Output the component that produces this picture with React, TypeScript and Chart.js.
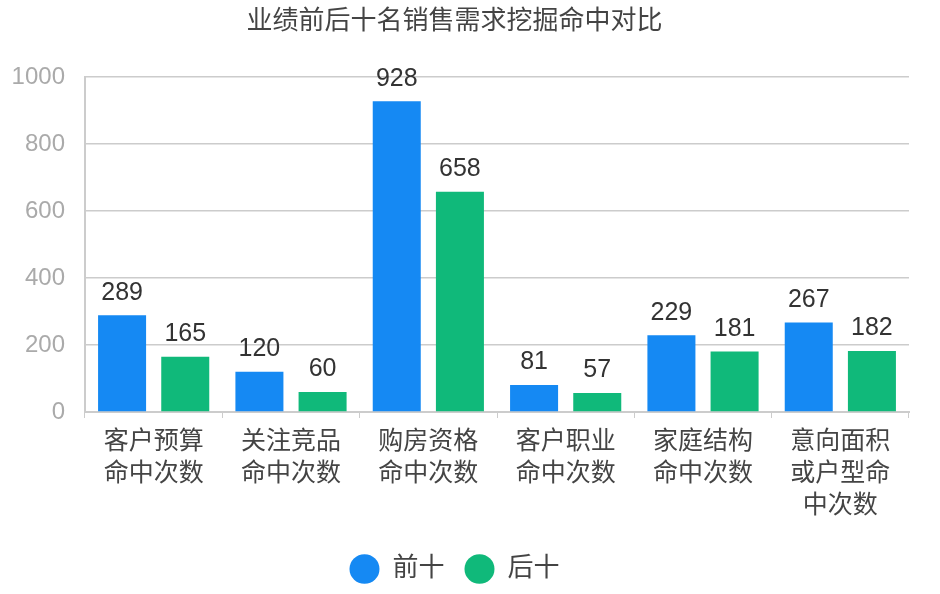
import React, { useEffect, useRef } from "react";
import { Chart, registerables } from "chart.js";

Chart.register(...registerables);

const title = "业绩前后十名销售需求挖掘命中对比";
const categories: string[][] = [
  ["客户预算", "命中次数"],
  ["关注竞品", "命中次数"],
  ["购房资格", "命中次数"],
  ["客户职业", "命中次数"],
  ["家庭结构", "命中次数"],
  ["意向面积", "或户型命", "中次数"],
];
const seriesNames = ["前十", "后十"];
const top10 = [289, 120, 928, 81, 229, 267];
const bottom10 = [165, 60, 658, 57, 181, 182];
const yTicks = [0, 200, 400, 600, 800, 1000];

const FONT = "'Liberation Sans', 'Noto Sans CJK SC', sans-serif";

const dataLabels = {
  id: "dataLabels",
  afterDatasetsDraw(chart: any) {
    const ctx = chart.ctx;
    ctx.save();
    ctx.font = `25px ${FONT}`;
    ctx.fillStyle = "#333";
    ctx.textAlign = "center";
    ctx.textBaseline = "bottom";
    chart.data.datasets.forEach((ds: any, i: number) => {
      const meta = chart.getDatasetMeta(i);
      meta.data.forEach((bar: any, j: number) => {
        ctx.fillText(String(ds.data[j]), bar.x, bar.y - 10);
      });
    });
    ctx.restore();
  },
};

export default function App() {
  const ref = useRef<HTMLCanvasElement>(null);
  useEffect(() => {
    document.body.style.margin = "0";
    const chart = new Chart(ref.current!, {
      type: "bar",
      data: {
        labels: categories,
        datasets: [
          { label: seriesNames[0], data: top10, backgroundColor: "#1589f3" },
          { label: seriesNames[1], data: bottom10, backgroundColor: "#10b97a" },
        ],
      },
      options: {
        animation: false,
        responsive: false,
        maintainAspectRatio: false,
        layout: { padding: { left: 0, right: 31, top: 0, bottom: 2 } },
        datasets: {
          bar: { categoryPercentage: 0.92, barPercentage: 0.76 },
        } as any,
        plugins: {
          title: {
            display: true,
            text: title,
            color: "#444",
            font: { family: FONT, size: 26, weight: "normal" },
            padding: { top: 6, bottom: 40 },
          },
          legend: {
            position: "bottom",
            labels: {
              usePointStyle: true,
              pointStyle: "circle",
              pointStyleWidth: 30,
              boxWidth: 30,
              boxHeight: 21,
              padding: 20,
              color: "#444",
              font: { family: FONT, size: 26 },
            },
          },
          tooltip: { enabled: false },
        },
        scales: {
          x: {
            afterFit: (scale: any) => {
              scale.height = 124;
            },
            grid: { drawOnChartArea: false, drawTicks: true, tickLength: 6, color: "#ccc" },
            border: { color: "#ccc", width: 2 },
            ticks: { color: "#444", font: { family: FONT, size: 25, lineHeight: 32 / 25 }, padding: 8, maxRotation: 0 },
          },
          y: {
            min: 0,
            max: 1000,
            afterBuildTicks: (scale: any) => {
              scale.ticks = yTicks.map((v) => ({ value: v }));
            },
            afterFit: (scale: any) => {
              scale.width = 85;
            },
            grid: { color: "#ccc", drawTicks: false, lineWidth: 1.5 },
            border: { color: "#ccc", width: 2 },
            ticks: {
              color: "#aaa",
              font: { family: FONT, size: 24 },
              padding: 20,
              callback: (v: any) => String(v),
            },
          },
        },
      },
      plugins: [dataLabels],
    });
    return () => chart.destroy();
  }, []);
  return <canvas ref={ref} width={940} height={594} style={{ display: "block" }} />;
}
